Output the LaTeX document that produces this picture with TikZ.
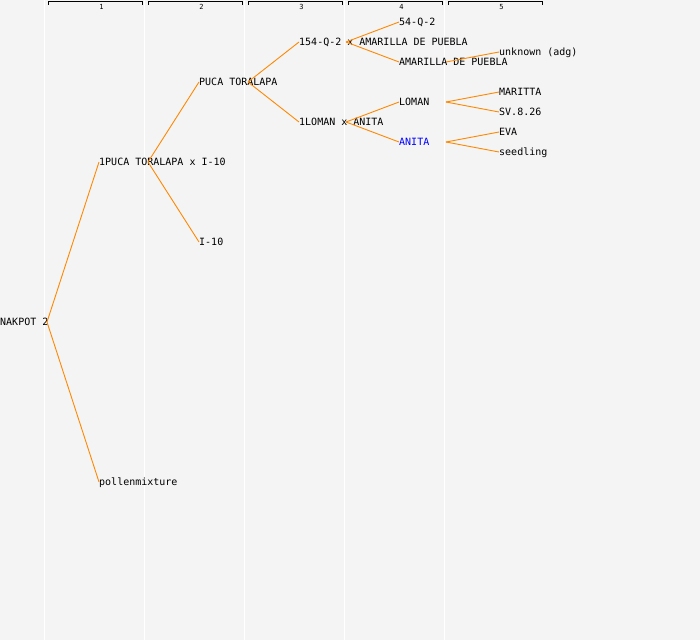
\documentclass[tikz,border=0pt]{standalone}
\usepackage{fontspec}
\newfontfamily\monofont{DejaVu Sans Mono}
\definecolor{bgc}{RGB}{244,244,244}
\definecolor{edgec}{RGB}{255,136,0}
\begin{document}
\begin{tikzpicture}[x=1pt,y=-1pt,
  lbl/.style={anchor=west, inner sep=0pt, font=\monofont\fontsize{10}{12}\selectfont, text height=7.3pt, text depth=0pt},
  hdr/.style={inner sep=0pt, font=\monofont\fontsize{7}{8}\selectfont},
  edge/.style={draw=edgec, line width=0.9pt},
  colline/.style={draw=white, line width=1.3pt},
  bracket/.style={draw=black, line width=0.8pt}]
\fill[bgc] (0,0) rectangle (700,640);
\useasboundingbox (0,0) rectangle (700,640);
\foreach \i in {0,...,4} {
  \draw[colline] (44.5+100*\i,0) -- (44.5+100*\i,640);
  \draw[bracket] (48+100*\i,4.5) -- (48+100*\i,1.5) -- (142+100*\i,1.5) -- (142+100*\i,4.5);
}
\foreach \i in {1,...,5} {
  \node[hdr] (h\i) at (1.5+100*\i,6.5) {\i};
}
\node[lbl] (n0) at (0,322) {NAKPOT 2};
\node[lbl] (n1) at (99,162) {1PUCA TORALAPA x I-10};
\node[lbl] (n2) at (99,482) {pollenmixture};
\node[lbl] (n3) at (199,82) {PUCA TORALAPA};
\node[lbl] (n4) at (199,242) {I-10};
\node[lbl] (n5) at (299,42) {154-Q-2 x AMARILLA DE PUEBLA};
\node[lbl] (n6) at (299,122) {1LOMAN x ANITA};
\node[lbl] (n7) at (399,22) {54-Q-2};
\node[lbl] (n8) at (399,62) {AMARILLA DE PUEBLA};
\node[lbl] (n9) at (399,102) {LOMAN};
\node[lbl, text=blue] (n10) at (399,142) {ANITA};
\node[lbl] (n11) at (499,52) {unknown (adg)};
\node[lbl] (n12) at (499,92) {MARITTA};
\node[lbl] (n13) at (499,112) {SV.8.26};
\node[lbl] (n14) at (499,132) {EVA};
\node[lbl] (n15) at (499,152) {seedling};
\draw[edge] ([xshift=47pt]n0.west) -- (n1.west);
\draw[edge] ([xshift=47pt]n0.west) -- (n2.west);
\draw[edge] ([xshift=49pt]n1.west) -- (n3.west);
\draw[edge] ([xshift=49pt]n1.west) -- (n4.west);
\draw[edge] ([xshift=49pt]n3.west) -- (n5.west);
\draw[edge] ([xshift=49pt]n3.west) -- (n6.west);
\draw[edge] ([xshift=47pt]n5.west) -- (n7.west);
\draw[edge] ([xshift=47pt]n5.west) -- (n8.west);
\draw[edge] ([xshift=47pt]n6.west) -- (n9.west);
\draw[edge] ([xshift=47pt]n6.west) -- (n10.west);
\draw[edge] ([xshift=47pt]n8.west) -- (n11.west);
\draw[edge] ([xshift=47pt]n9.west) -- (n12.west);
\draw[edge] ([xshift=47pt]n9.west) -- (n13.west);
\draw[edge] ([xshift=47pt]n10.west) -- (n14.west);
\draw[edge] ([xshift=47pt]n10.west) -- (n15.west);
\end{tikzpicture}
\end{document}
